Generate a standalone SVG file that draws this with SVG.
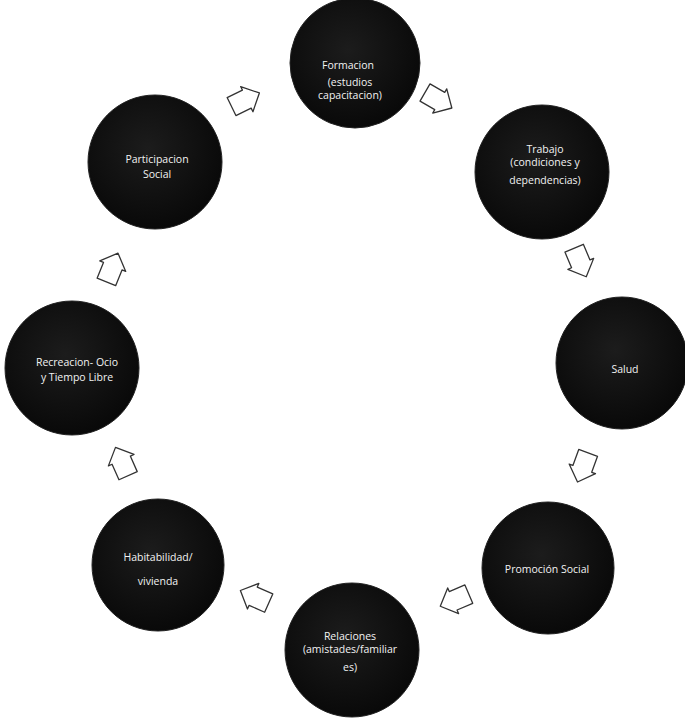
<svg xmlns="http://www.w3.org/2000/svg" width="685" height="718" viewBox="0 0 685 718">
<style>
.node circle{stroke:#222;stroke-width:1}
.node text{fill:#f2f2f2;font-family:"Open Sans","Liberation Sans",sans-serif;font-size:10.5px;text-anchor:middle}
.arr{fill:#fff;stroke:#333;stroke-width:1.3;stroke-linejoin:round}
</style>
<defs>
<radialGradient id="g" cx="0.45" cy="0.4" r="0.6">
<stop offset="0" stop-color="#1c1c1c"/>
<stop offset="1" stop-color="#090909"/>
</radialGradient>
<path id="ar" d="M-15,-10 L2,-10 L2,-14 L16,0 L2,14 L2,10 L-15,10 Z"/>
</defs>
<rect width="685" height="718" fill="#fff"/>
<g id="connectors">
<use href="#ar" class="arr" transform="translate(438,100) rotate(30)"/>
<use href="#ar" class="arr" transform="translate(580,262) rotate(67)"/>
<use href="#ar" class="arr" transform="translate(583,467) rotate(110)"/>
<use href="#ar" class="arr" transform="translate(455,600) rotate(157)"/>
<use href="#ar" class="arr" transform="translate(255,597) rotate(204)"/>
<use href="#ar" class="arr" transform="translate(122,462) rotate(246)"/>
<use href="#ar" class="arr" transform="translate(112,268) rotate(292)"/>
<use href="#ar" class="arr" transform="translate(245,100) rotate(334)"/>
</g>
<g id="formacion" class="node"><circle cx="355" cy="63" r="65" style="fill:url(#g)"/>
<text x="348" y="69">Formacion</text><text x="350" y="86">(estudios</text><text x="350" y="99">capacitacion)</text></g>
<g id="trabajo" class="node"><circle cx="542" cy="172" r="67" style="fill:url(#g)"/>
<text x="545" y="153">Trabajo</text><text x="545" y="166">(condiciones   y</text><text x="545" y="184">dependencias)</text></g>
<g id="salud" class="node"><circle cx="622" cy="363" r="66" style="fill:url(#g)"/>
<text x="625" y="373">Salud</text></g>
<g id="promocion" class="node"><circle cx="548" cy="568" r="66" style="fill:url(#g)"/>
<text x="547" y="573">Promoción   Social</text></g>
<g id="relaciones" class="node"><circle cx="352" cy="650" r="67" style="fill:url(#g)"/>
<text x="350" y="640">Relaciones</text><text x="350" y="653">(amistades/familiar</text><text x="350" y="671">es)</text></g>
<g id="habitabilidad" class="node"><circle cx="158" cy="565" r="66" style="fill:url(#g)"/>
<text x="158" y="561">Habitabilidad/</text><text x="158" y="585">vivienda</text></g>
<g id="recreacion" class="node"><circle cx="72" cy="368" r="67" style="fill:url(#g)"/>
<text x="77" y="366">Recreacion-   Ocio</text><text x="77" y="381">y  Tiempo  Libre</text></g>
<g id="participacion" class="node"><circle cx="155" cy="162" r="67" style="fill:url(#g)"/>
<text x="157" y="163">Participacion</text><text x="157" y="178">Social</text></g>
</svg>
